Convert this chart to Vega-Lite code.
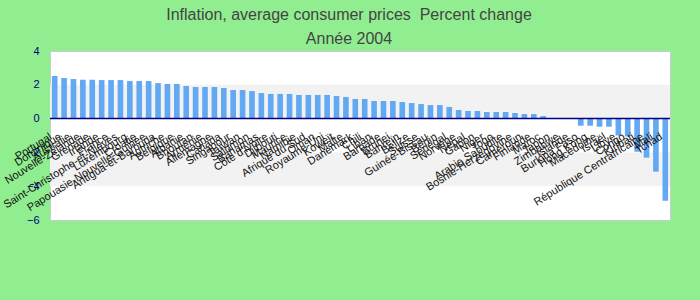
{
  "$schema": "https://vega.github.io/schema/vega-lite/v6.json",
  "width": 620,
  "height": 169,
  "autosize": "none",
  "padding": {"left": 50, "top": 51, "right": 30, "bottom": 80},
  "background": "#90EE90",
  "title": {
    "text": ["Inflation, average consumer prices\u00a0 Percent change", "Année 2004"],
    "font": "Liberation Sans",
    "fontSize": 16,
    "fontWeight": "normal",
    "color": "#444444",
    "lineHeight": 24,
    "anchor": "middle",
    "frame": "group",
    "baseline": "bottom",
    "dx": -11,
    "dy": 20,
    "offset": 2
  },
  "config": {
    "view": {"fill": "white", "stroke": "#cccccc"}
  },
  "resolve": {"axis": {"y": "independent"}},
  "datasets": {
    "d": [
      {"pays": "Portugal", "v": 2.52},
      {"pays": "Dominique", "v": 2.4},
      {"pays": "Australie", "v": 2.34},
      {"pays": "Nouvelle-Zélande", "v": 2.3},
      {"pays": "Grenade", "v": 2.3},
      {"pays": "Irlande", "v": 2.28},
      {"pays": "France", "v": 2.28},
      {"pays": "Saint-Christophe-et-Niévès", "v": 2.28},
      {"pays": "Luxembourg", "v": 2.22},
      {"pays": "Croatie", "v": 2.22},
      {"pays": "Papouasie-Nouvelle-Guinée", "v": 2.22},
      {"pays": "Antigua-et-Barbuda", "v": 2.1},
      {"pays": "Autriche", "v": 2.05},
      {"pays": "Belgique", "v": 2.05},
      {"pays": "Albanie", "v": 1.93},
      {"pays": "Bhoutan", "v": 1.87},
      {"pays": "Arménie", "v": 1.87},
      {"pays": "Allemagne", "v": 1.87},
      {"pays": "Canada", "v": 1.81},
      {"pays": "Singapour", "v": 1.69},
      {"pays": "Taïwan", "v": 1.69},
      {"pays": "Salomon", "v": 1.63},
      {"pays": "Bahamas", "v": 1.51},
      {"pays": "Côte d'Ivoire", "v": 1.46},
      {"pays": "Djibouti", "v": 1.46},
      {"pays": "Maurice", "v": 1.46},
      {"pays": "Namibie", "v": 1.4},
      {"pays": "Afrique du Sud", "v": 1.4},
      {"pays": "Oman", "v": 1.4},
      {"pays": "Royaume-Uni", "v": 1.4},
      {"pays": "Koweït", "v": 1.34},
      {"pays": "Malte", "v": 1.28},
      {"pays": "Danemark", "v": 1.16},
      {"pays": "Chili", "v": 1.16},
      {"pays": "Liban", "v": 1.04},
      {"pays": "Barbade", "v": 1.04},
      {"pays": "Brunei", "v": 1.04},
      {"pays": "Bahreïn", "v": 0.98},
      {"pays": "Belize", "v": 0.92},
      {"pays": "Suisse", "v": 0.86},
      {"pays": "Guinée-Bissau", "v": 0.8},
      {"pays": "Bénin", "v": 0.8},
      {"pays": "Sénégal", "v": 0.69},
      {"pays": "Norvège", "v": 0.51},
      {"pays": "Népal", "v": 0.45},
      {"pays": "Gabon", "v": 0.45},
      {"pays": "Niger", "v": 0.39},
      {"pays": "Togo", "v": 0.39},
      {"pays": "Arabie Saoudite", "v": 0.39},
      {"pays": "Bosnie-Herzégovine", "v": 0.33},
      {"pays": "Cameroun", "v": 0.27},
      {"pays": "Finlande", "v": 0.27},
      {"pays": "Maroc", "v": 0.15},
      {"pays": "Japon", "v": 0},
      {"pays": "Zimbabwe", "v": 0},
      {"pays": "Islande", "v": 0},
      {"pays": "Burkina Faso", "v": -0.42},
      {"pays": "Hong Kong", "v": -0.42},
      {"pays": "Macédoine", "v": -0.48},
      {"pays": "Israël", "v": -0.48},
      {"pays": "Libye", "v": -1.0},
      {"pays": "Congo", "v": -1.05},
      {"pays": "Kiribati", "v": -1.96},
      {"pays": "République Centrafricaine", "v": -2.31},
      {"pays": "Mali", "v": -3.14},
      {"pays": "Tchad", "v": -4.86}
    ]
  },
  "layer": [
    {
      "data": {"values": [{"lo": 0, "hi": 2}, {"lo": -4, "hi": -2}]},
      "mark": {"type": "rect", "color": "#f2f2f2"},
      "encoding": {
        "y": {"field": "lo", "type": "quantitative",
              "scale": {"domain": [-6, 4], "nice": false, "zero": false},
              "axis": {
                "orient": "left", "values": [4, 0, -4], "grid": false, "ticks": false, "domain": false,
                "labelColor": "#000080", "labelFont": "Liberation Sans", "labelFontSize": 11,
                "labelPadding": 11, "labelOverlap": false, "labelBound": false, "labelFlush": false,
                "zindex": 3, "title": null
              }},
        "y2": {"field": "hi"}
      }
    },
    {
      "data": {"name": "d"},
      "mark": {"type": "bar", "color": "#62A8F2"},
      "encoding": {
        "x": {"field": "pays", "type": "nominal", "sort": null, "axis": null,
              "scale": {"paddingInner": 0.4, "paddingOuter": 0.2}},
        "y": {"field": "v", "type": "quantitative", "axis": null}
      }
    },
    {
      "data": {"values": [{"z": 0}]},
      "mark": {"type": "rule", "color": "#000080", "strokeWidth": 1.5},
      "encoding": {"y": {"field": "z", "type": "quantitative",
        "axis": {
          "orient": "left", "values": [2, -2, -6], "grid": false, "ticks": false, "domain": false,
          "labelColor": "#000080", "labelFont": "Liberation Sans", "labelFontSize": 11,
          "labelPadding": 11, "labelOverlap": false, "labelBound": false, "labelFlush": false,
          "zindex": 3, "title": null
        }}}
    },
    {
      "data": {"name": "d"},
      "mark": {"type": "text", "angle": 328, "align": "right", "baseline": "alphabetic",
               "font": "Liberation Sans", "fontSize": 11, "color": "#111111", "yOffset": 20, "xOffset": -2},
      "encoding": {
        "x": {"field": "pays", "type": "nominal", "sort": null},
        "y": {"datum": 0, "axis": null},
        "text": {"field": "pays"}
      }
    }
  ]
}
